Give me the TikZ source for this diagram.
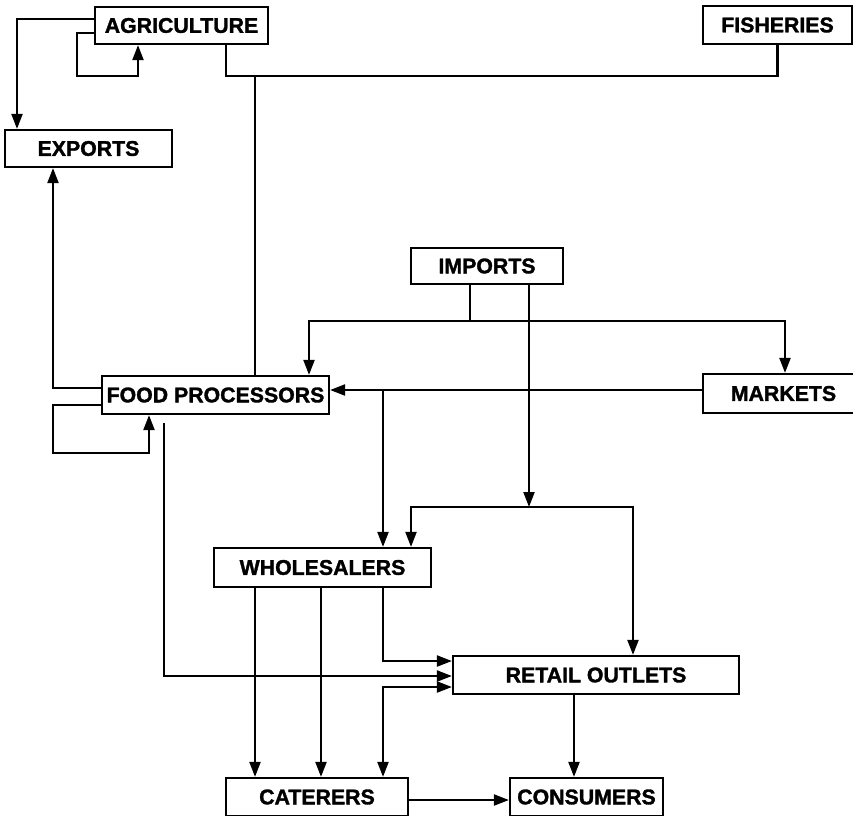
\documentclass[tikz,border=0pt]{standalone}
\usepackage{fontspec}
\setmainfont{Liberation Sans}[BoldFeatures={FakeBold=1.5}]
\usetikzlibrary{arrows.meta}
\begin{document}
\begin{tikzpicture}[x=1pt,y=1pt,
  box/.style={draw, line width=2.2pt, inner sep=0pt, font=\bfseries\fontsize{21.3}{24}\selectfont},
  con/.style={line width=2.1pt},
  arr/.style={con, -{Triangle[length=15pt,width=11pt]}},
  darr/.style={con, {Triangle[length=15pt,width=11pt]}-{Triangle[length=15pt,width=11pt]}}]
\useasboundingbox (0,0) rectangle (853,-815);
\clip (0,0) rectangle (853,-815);
\node[box, minimum width=173, minimum height=37] (agri) at (181.5,-25.5) {AGRICULTURE};
\node[box, minimum width=149, minimum height=38] (fish) at (777.5,-25) {FISHERIES};
\node[box, minimum width=167, minimum height=37] (exports) at (88.5,-148.5) {EXPORTS};
\node[box, minimum width=152, minimum height=36] (imports) at (487,-266) {IMPORTS};
\node[box, minimum width=227, minimum height=38] (fp) at (215.5,-395) {FOOD PROCESSORS};
\node[box, minimum width=161, minimum height=39] (markets) at (783.5,-393.5) {MARKETS};
\node[box, minimum width=217, minimum height=39] (wh) at (322.5,-567.5) {WHOLESALERS};
\node[box, minimum width=286, minimum height=38] (retail) at (596,-675) {RETAIL OUTLETS};
\node[box, minimum width=182, minimum height=38] (cat) at (317,-797) {CATERERS};
\node[box, minimum width=153, minimum height=38] (cons) at (586.5,-797) {CONSUMERS};
\coordinate (al) at (77,-76);
\coordinate (af) at (500,-76);
\coordinate (fl) at (53,-453);
\coordinate (ij) at (470,-321);
\coordinate (rj) at (529,-507);
\coordinate (mb) at (383,-390);
% agriculture
\draw[arr] ([yshift=6.5]agri.west) -| ([xshift=-71.5]exports.north);
\draw[arr] ([yshift=-7.5]agri.west) -| (al) -| ([xshift=-43.5]agri.south);
\draw[con] ([xshift=44.5]agri.south) |- (af) -| (fish.south);
\draw[con] ([xshift=39.5]fp.north) |- (af);
% food processors
\draw[arr] ([yshift=7]fp.west) -| ([xshift=-35.5]exports.south);
\draw[arr] ([yshift=-10]fp.west) -| (fl) -| ([xshift=-66.5]fp.south);
\draw[arr] ([xshift=-51.5,yshift=-8]fp.south) |- ([yshift=-1]retail.west);
% imports
\draw[arr] ([xshift=-17]imports.south) |- (ij) -| ([xshift=93.5]fp.north);
\draw[arr] (ij) -| ([xshift=1.5]markets.north);
\draw[arr] ([xshift=42]imports.south) -- (rj);
\draw[arr] (rj) -| ([xshift=88.5]wh.north);
\draw[arr] (rj) -| ([xshift=37]retail.north);
% markets
\draw[arr] ([yshift=3.5]markets.west) -- ([yshift=5]fp.east);
\draw[arr] (mb) -- ([xshift=60.5]wh.north);
% wholesalers
\draw[arr] ([xshift=-67.5]wh.south) -- ([xshift=-62]cat.north);
\draw[arr] ([xshift=-1.5]wh.south) -- ([xshift=4]cat.north);
\draw[arr] ([xshift=60.5]wh.south) |- ([yshift=14]retail.west);
\draw[darr] ([xshift=66]cat.north) |- ([yshift=-12]retail.west);
% retail, caterers
\draw[arr] ([xshift=-22]retail.south) -- ([xshift=-12.5]cons.north);
\draw[arr] ([yshift=-3]cat.east) -- ([yshift=-3]cons.west);
\end{tikzpicture}
\end{document}
